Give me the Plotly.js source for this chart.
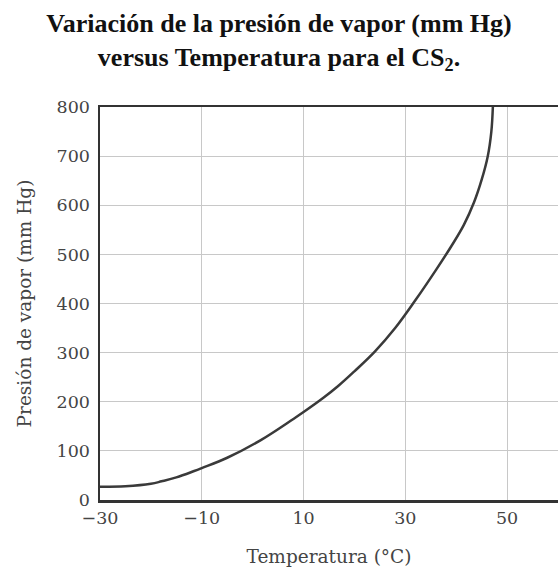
<!DOCTYPE html>
<html>
<head>
<meta charset="utf-8">
<script src="https://cdn.plot.ly/plotly-3.0.1.min.js"></script>
<style>html,body{margin:0;padding:0;background:#fff;}#chart{width:558px;height:568px;}</style>
</head>
<body>
<div id="chart"></div>
<script>
// Temperatura (°C)
const temperatura = [-30, -25, -20, -17.9, -15, -11.5, -10, -5, 1.6, 8, 10, 13.9, 16.8, 20, 24, 28, 32, 36, 39, 41.5, 43.5, 45, 46.2, 46.9, 47.2];
// Presión de vapor (mm Hg)
const presion = [27, 28, 33, 38, 46, 59, 65, 86, 122, 165, 179, 208, 232, 262, 302, 350, 407, 468, 516, 560, 606, 652, 700, 750, 800];
const xTicks = [-30, -10, 10, 30, 50];
const yTicks = [0, 100, 200, 300, 400, 500, 600, 700, 800];

const serif = 'DejaVu Serif, serif';
const titleSerif = 'Liberation Serif, Times New Roman, serif';

const trace = {
  x: temperatura,
  y: presion,
  type: 'scatter',
  mode: 'lines',
  line: {color: '#3a3a3a', width: 2.5, shape: 'spline', smoothing: 1.1},
  hoverinfo: 'x+y'
};

const layout = {
  width: 558,
  height: 568,
  paper_bgcolor: '#ffffff',
  plot_bgcolor: '#ffffff',
  margin: {l: 100, r: 0, t: 107, b: 68},
  showlegend: false,
  title: {
    text: '<b>Variación de la presión de vapor (mm Hg)</b><br><b>versus Temperatura para el CS<sub>2</sub>.</b>',
    font: {family: titleSerif, size: 26, color: '#111'},
    x: 0.5, xref: 'container', xanchor: 'center',
    y: 0.944, yref: 'container', yanchor: 'middle'
  },
  xaxis: {
    range: [-30, 60],
    tickvals: xTicks,
    ticktext: xTicks.map(v => v < 0 ? '\u2212' + Math.abs(v) : String(v)),
    ticks: '',
    showgrid: true,
    gridcolor: '#c8c8c8',
    gridwidth: 1,
    zeroline: false,
    showline: true,
    linecolor: '#333',
    linewidth: 2.5,
    mirror: true,
    tickfont: {family: serif, size: 17.5, color: '#444'},
    title: {text: 'Temperatura (°C)', font: {family: serif, size: 18.5, color: '#444'}, standoff: 24},
    fixedrange: true
  },
  yaxis: {
    range: [0, 800],
    tickvals: yTicks,
    ticks: '',
    showgrid: true,
    gridcolor: '#c8c8c8',
    gridwidth: 1,
    zeroline: false,
    showline: true,
    linecolor: '#333',
    linewidth: 2.5,
    tickfont: {family: serif, size: 17.5, color: '#444'},
    ticklabelstandoff: 4,
    title: {text: 'Presión de vapor (mm Hg)', font: {family: serif, size: 18.5, color: '#444'}, standoff: 20},
    fixedrange: true
  }
};

Plotly.newPlot('chart', [trace], layout, {displayModeBar: false, staticPlot: true});
</script>
</body>
</html>
